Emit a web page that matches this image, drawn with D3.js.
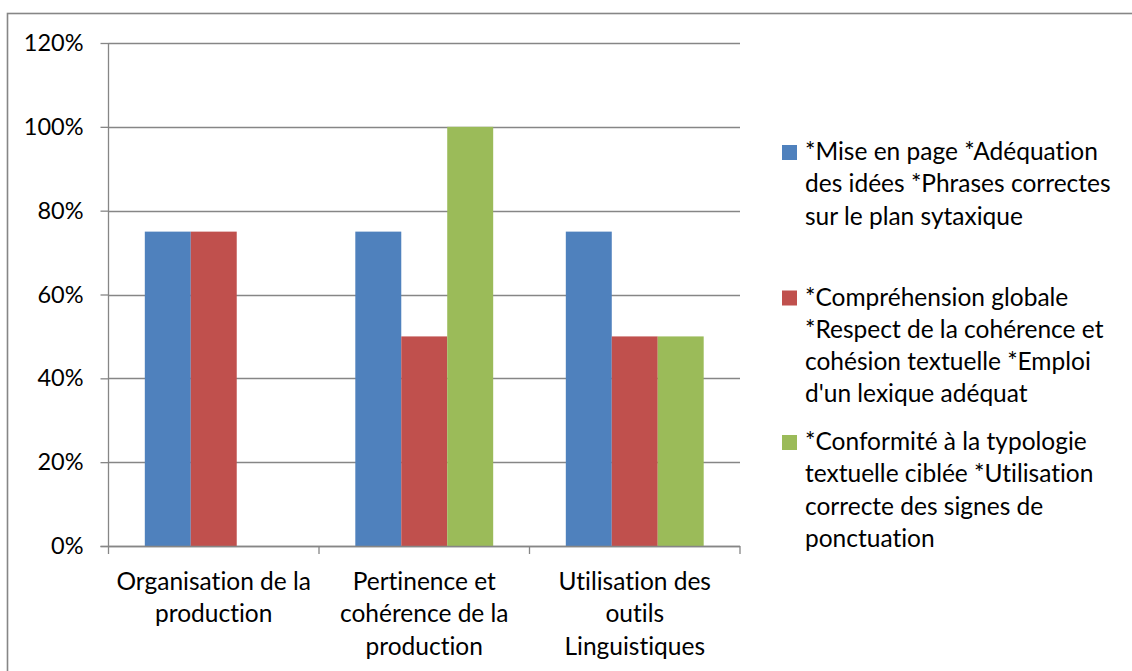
<!DOCTYPE html>
<html>
<head>
<meta charset="utf-8">
<script src="https://cdn.jsdelivr.net/npm/d3@7"></script>
<style>
  html, body { margin: 0; padding: 0; background: #fff; }
  svg { display: block; }
  text { font-family: Lato, "Open Sans", sans-serif; fill: #000; font-variant-ligatures: none; font-feature-settings: "liga" 0, "clig" 0; }
</style>
</head>
<body>
<svg id="chart" width="1132" height="671"></svg>
<script>
// Category labels (wrapped lines) along the x axis
const categories = ["Organisation de la production", "Pertinence et cohérence de la production", "Utilisation des outils Linguistiques"];
const categoryLines = [
  ["Organisation de la", "production"],
  ["Pertinence et", "cohérence de la", "production"],
  ["Utilisation des", "outils", "Linguistiques"]
];

// Series names and their legend lines
const seriesNames = [
  "*Mise en page *Adéquation des idées *Phrases correctes sur le plan sytaxique",
  "*Compréhension globale *Respect de la cohérence et cohésion textuelle *Emploi d'un lexique adéquat",
  "*Conformité à la typologie textuelle ciblée *Utilisation correcte des signes de ponctuation"
];
const legendLines = [
  ["*Mise en page *Adéquation", "des idées *Phrases correctes", "sur le plan sytaxique"],
  ["*Compréhension globale", "*Respect de la cohérence et", "cohésion textuelle *Emploi", "d'un lexique adéquat"],
  ["*Conformité à la typologie", "textuelle ciblée *Utilisation", "correcte des signes de", "ponctuation"]
];
const seriesColors = ["#4F81BD", "#C0504D", "#9BBB59"];

// Values (fractions) per series, one per category
const seriesMise = [0.75, 0.75, 0.75];
const seriesComprehension = [0.75, 0.50, 0.50];
const seriesConformite = [0, 1.00, 0.50];
const seriesValues = [seriesMise, seriesComprehension, seriesConformite];

// Y axis ticks
const yTicks = [0, 0.2, 0.4, 0.6, 0.8, 1.0, 1.2];

const svg = d3.select("#chart");

// Outer chart frame
svg.append("rect")
  .attr("x", 7.5).attr("y", 13.5)
  .attr("width", 1140).attr("height", 670)
  .attr("fill", "none").attr("stroke", "#868686").attr("stroke-width", 1.6);

const plot = { left: 108.5, right: 740, top: 43, bottom: 546 };

const y = d3.scaleLinear().domain([0, 1.2]).range([plot.bottom, plot.top]);
const x0 = d3.scaleBand().domain(categories).range([plot.left, plot.right]).padding(0);
const x1 = d3.scaleBand().domain(d3.range(seriesNames.length))
  .range([0, x0.bandwidth()]).paddingInner(0).paddingOuter(0.79);

// Horizontal gridlines
svg.append("g").selectAll("line").data(yTicks).join("line")
  .attr("x1", plot.left).attr("x2", plot.right)
  .attr("y1", d => Math.round(y(d)) + 0.5).attr("y2", d => Math.round(y(d)) + 0.5)
  .attr("stroke", "#868686").attr("stroke-width", 1.3);

// Bars
const groups = svg.append("g").selectAll("g").data(categories).join("g")
  .attr("transform", c => `translate(${x0(c)},0)`);
groups.selectAll("rect")
  .data((c, ci) => seriesValues.map((vals, si) => ({ si, v: vals[ci] })))
  .join("rect")
  .attr("x", d => x1(d.si))
  .attr("width", x1.bandwidth())
  .attr("y", d => y(d.v))
  .attr("height", d => y(0) - y(d.v))
  .attr("fill", d => seriesColors[d.si]);

// Y axis
const yAxis = d3.axisLeft(y).tickValues(yTicks).tickFormat(d3.format(".0%"))
  .tickSize(8).tickPadding(17);
const gy = svg.append("g").attr("transform", `translate(${plot.left},0)`).call(yAxis);
gy.select(".domain").attr("stroke", "#868686").attr("stroke-width", 1.3)
  .attr("d", `M0,${plot.top}V${plot.bottom}`);
gy.selectAll(".tick line").attr("stroke", "#868686").attr("stroke-width", 1.3);
gy.selectAll(".tick text").style("font-size", "23.5px").style("font-family", "Lato, sans-serif").attr("fill", "#000");

// X axis baseline and category boundary ticks
const bounds = categories.map(c => x0(c)).concat([plot.right]);
svg.append("line")
  .attr("x1", plot.left - 8).attr("x2", plot.right)
  .attr("y1", plot.bottom + 0.5).attr("y2", plot.bottom + 0.5)
  .attr("stroke", "#868686").attr("stroke-width", 1.3);
svg.append("g").selectAll("line").data(bounds).join("line")
  .attr("x1", d => d).attr("x2", d => d)
  .attr("y1", plot.bottom).attr("y2", plot.bottom + 8)
  .attr("stroke", "#868686").attr("stroke-width", 1.3);

// Category labels
const lineH = 32.3;
svg.append("g").selectAll("text").data(categories).join("text")
  .attr("text-anchor", "middle")
  .style("font-size", "24.5px")
  .each(function (c, i) {
    const t = d3.select(this);
    categoryLines[i].forEach((ln, k) => {
      t.append("tspan").attr("x", x0(c) + x0.bandwidth() / 2)
        .attr("y", 590 + k * lineH).text(ln);
    });
  });

// Legend
const legendBase = [160, 305.5, 450];
const leg = svg.append("g").selectAll("g").data(seriesNames).join("g");
leg.append("rect")
  .attr("x", 782).attr("y", (d, i) => legendBase[i] - 15)
  .attr("width", 15).attr("height", 15)
  .attr("fill", (d, i) => seriesColors[i]);
leg.append("text")
  .style("font-size", "24.5px")
  .each(function (d, i) {
    const t = d3.select(this);
    legendLines[i].forEach((ln, k) => {
      t.append("tspan").attr("x", 805).attr("y", legendBase[i] + k * lineH).text(ln);
    });
  });
</script>
</body>
</html>
